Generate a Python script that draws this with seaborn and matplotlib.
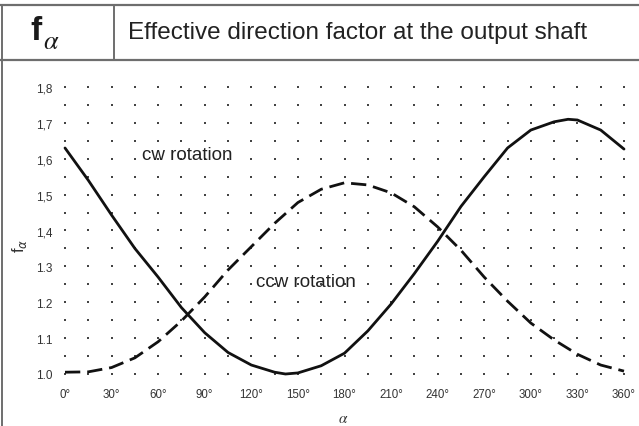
import numpy as np
import pandas as pd
import matplotlib
matplotlib.use("Agg")
import matplotlib.pyplot as plt
from matplotlib.lines import Line2D
import seaborn as sns

sns.set_theme(style="white")
plt.rcParams["font.family"] = ["Liberation Sans", "DejaVu Sans"]

# Clockwise rotation: angle of the load direction (degrees) and direction factor
angle_cw = [0, 15, 30, 45, 60, 75, 90, 105, 120, 135, 142, 150, 165, 180,
            195, 210, 225, 240, 255, 270, 285, 300, 315, 324, 330, 345, 360]
f_cw = [1.630, 1.540, 1.443, 1.350, 1.270, 1.185, 1.115, 1.060, 1.025,
        1.005, 1.000, 1.003, 1.023, 1.058, 1.120, 1.195, 1.280, 1.370,
        1.467, 1.550, 1.630, 1.680, 1.703, 1.710, 1.708, 1.680, 1.627]

# Counter-clockwise rotation
angle_ccw = [0, 15, 30, 45, 60, 75, 90, 105, 120, 135, 150, 165, 180,
             195, 210, 225, 240, 255, 270, 285, 300, 315, 330, 345, 360]
f_ccw = [1.005, 1.006, 1.018, 1.045, 1.090, 1.148, 1.215, 1.290, 1.355,
         1.420, 1.478, 1.515, 1.533, 1.527, 1.505, 1.466, 1.410, 1.345,
         1.270, 1.203, 1.142, 1.095, 1.055, 1.025, 1.008]

x_ticks = [0, 30, 60, 90, 120, 150, 180, 210, 240, 270, 300, 330, 360]
x_tick_labels = ["0°", "30°", "60°", "90°", "120°", "150°", "180°",
                 "210°", "240°", "270°", "300°", "330°", "360°"]
y_ticks = [1.0, 1.1, 1.2, 1.3, 1.4, 1.5, 1.6, 1.7, 1.8]
y_tick_labels = ["1.0", "1.1", "1.2", "1.3", "1,4", "1,5", "1,6", "1,7", "1,8"]

df_cw = pd.DataFrame({"angle": angle_cw, "f": f_cw})
df_ccw = pd.DataFrame({"angle": angle_ccw, "f": f_ccw})

W, H = 639, 427
fig = plt.figure(figsize=(W / 100, H / 100), dpi=100)
fig.patch.set_facecolor("white")

# Table frame: header row and body
frame_col = "#6e6e6e"
def hline(y, x0=0, x1=W, lw=1.6):
    fig.add_artist(Line2D([x0 / W, x1 / W], [1 - y / H, 1 - y / H],
                          color=frame_col, lw=lw, transform=fig.transFigure))
def vline(x, y0, y1, lw=1.4):
    fig.add_artist(Line2D([x / W, x / W], [1 - y0 / H, 1 - y1 / H],
                          color=frame_col, lw=lw, transform=fig.transFigure))

hline(5.5)
hline(61)
vline(1.5, 5.5, H)
vline(113.5, 5.5, 61)

fig.text(30 / W, 1 - 31 / H, "f", fontsize=24, fontweight="bold",
         color="#1a1a1a", ha="left", va="center")
fig.text(43 / W, 1 - 42 / H, r"$\alpha$", fontsize=19, color="#1a1a1a",
         ha="left", va="center", math_fontfamily="stix")
fig.text(128 / W, 1 - 33 / H, "Effective direction factor at the output shaft",
         fontsize=17.5, color="#222222", ha="left", va="center")

# Plot area
ax = fig.add_axes([65 / W, 1 - 375 / H, (624 - 65) / W, (375 - 88) / H])
ax.set_xlim(0, 360)
ax.set_ylim(1.0, 1.8)
for s in ax.spines.values():
    s.set_visible(False)
ax.set_facecolor("white")

# Dotted grid at intersections
gx, gy = np.meshgrid(np.arange(0, 361, 15), np.arange(1.0, 1.801, 0.05))
ax.scatter(gx.ravel(), gy.ravel(), s=2.0, color="#444444", marker="s",
           linewidths=0, clip_on=False, zorder=1)

sns.lineplot(data=df_cw, x="angle", y="f", ax=ax, color="#111111", lw=2.0,
             clip_on=False, zorder=3)
sns.lineplot(data=df_ccw, x="angle", y="f", ax=ax, color="#111111", lw=2.0,
             clip_on=False, zorder=3)
ax.lines[-1].set_dashes([5.5, 2.5])

ax.text(79, 1.613, "cw rotation", fontsize=13.5, color="#222222",
        ha="center", va="center")
ax.text(155, 1.257, "ccw rotation", fontsize=13.5, color="#222222",
        ha="center", va="center")

ax.set_xticks(x_ticks)
ax.set_xticklabels(x_tick_labels, fontsize=8.3, color="#333333")
ax.set_yticks(y_ticks)
ax.set_yticklabels(y_tick_labels, fontsize=8.5, color="#333333")
ax.tick_params(axis="both", length=0)
ax.tick_params(axis="y", pad=9)
ax.tick_params(axis="x", pad=10)

ax.set_xlabel(r"$\alpha$", fontsize=11, color="#333333",
              math_fontfamily="stix")
ax.xaxis.set_label_coords(278 / 559, -0.13)
ax.set_ylabel(r"f$_\alpha$", fontsize=12, color="#333333")
ax.yaxis.set_label_coords(-36 / 559, 0.45)

fig.savefig("out.png", dpi=100)
